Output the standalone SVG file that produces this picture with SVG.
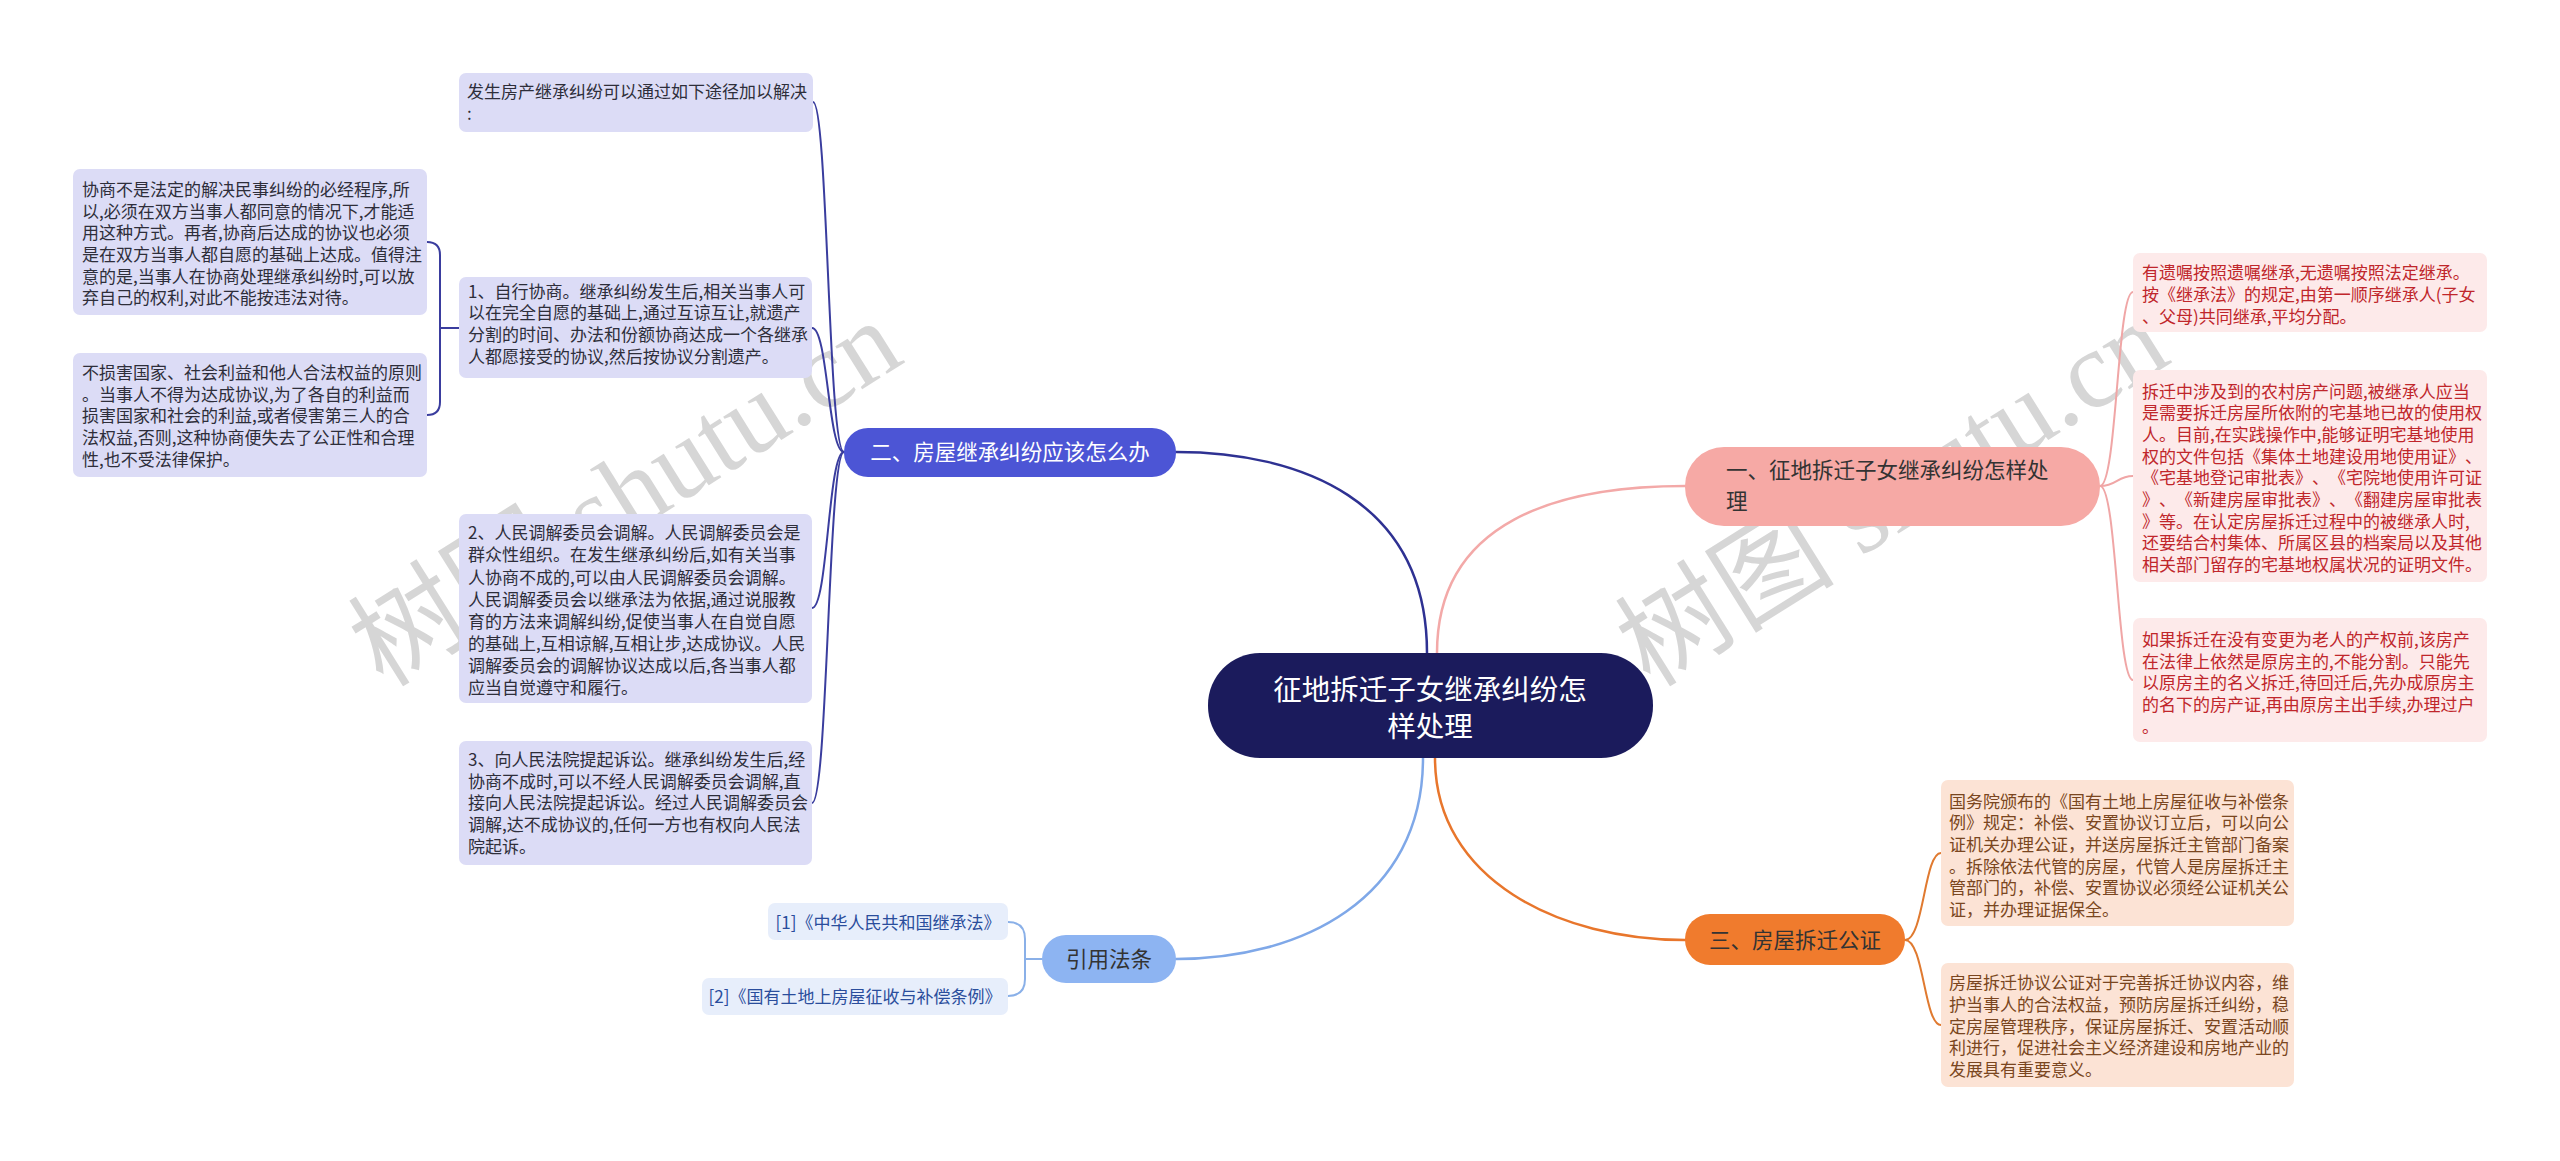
<svg xmlns="http://www.w3.org/2000/svg" width="2560" height="1161" viewBox="0 0 2560 1161">
<style>
text{font-family:"Noto Sans CJK SC","Noto Sans",sans-serif;text-spacing-trim:space-all;}
.wm{font-family:"Liberation Serif","Noto Sans CJK SC",serif;font-size:110px;fill:#b5b5b5;opacity:0.55;}
.lf{font-size:17px;}
.pu rect{fill:#dcdcf6;}
.pu text{fill:#2e2e3a;}
.pk rect{fill:#fdeaea;}
.pk text{fill:#c0262b;}
.or rect{fill:#fce3d5;}
.or text{fill:#7a4620;}
.ci rect{fill:#e7eefb;}
.ci text{fill:#2a4d9c;text-anchor:middle;}
.br{font-size:21.5px;}
.c{fill:none;stroke-linecap:round;}
</style>
<rect width="2560" height="1161" fill="#ffffff"/>
<text class="wm" transform="translate(645,525) rotate(-32)" text-anchor="middle">树图 shutu.cn</text>
<text class="wm" transform="translate(1912,525) rotate(-32)" text-anchor="middle">树图 shutu.cn</text>

<g id="connectors">
<path class="c" d="M1427 653 C1427 500 1300 452 1176 452" stroke="#2e3192" stroke-width="2.5"/>
<path class="c" d="M1437 653 C1437 520 1560 486 1685 486" stroke="#f3a9a8" stroke-width="2.5"/>
<path class="c" d="M1435 758 C1435 880 1560 940 1685 940" stroke="#e8762c" stroke-width="2.5"/>
<path class="c" d="M1423 758 C1423 900 1300 959 1176 959" stroke="#7fa8e8" stroke-width="2.5"/>
<g stroke="#3a3d9e" stroke-width="2">
<path class="c" d="M844 452 C828 452 828 102 813 102"/>
<path class="c" d="M844 452 C828 452 828 328 812 328"/>
<path class="c" d="M844 452 C828 452 828 608 812 608"/>
<path class="c" d="M844 452 C828 452 828 803 812 803"/>
<path class="c" d="M427 242 Q440 242 440 255 L440 402 Q440 415 427 415 M440 328 L459 328"/>
</g>
<g stroke="#f0a6a6" stroke-width="2">
<path class="c" d="M2100 486 C2117 486 2117 292 2133 292"/>
<path class="c" d="M2100 486 C2117 486 2117 476 2133 476"/>
<path class="c" d="M2100 486 C2117 486 2117 680 2133 680"/>
</g>
<g stroke="#e07a30" stroke-width="2">
<path class="c" d="M1905 940 C1924 940 1924 853 1941 853"/>
<path class="c" d="M1905 940 C1924 940 1924 1025 1941 1025"/>
</g>
<path class="c" stroke="#8ab0e8" stroke-width="2" d="M1008 922 Q1025 922 1025 939 L1025 979 Q1025 996 1008 996 M1025 959 L1042 959"/>
</g>

<g id="root">
<rect x="1208" y="653" width="445" height="105" rx="52" fill="#1b1b5c"/>
<text x="1430" y="700" font-size="28.5" fill="#ffffff" text-anchor="middle">征地拆迁子女继承纠纷怎</text>
<text x="1430" y="737" font-size="28.5" fill="#ffffff" text-anchor="middle">样处理</text>
</g>

<g id="b1">
<rect x="1685" y="447" width="415" height="79" rx="39" fill="#f6a9a5"/>
<text class="br" x="1726" y="478" fill="#333333">一、征地拆迁子女继承纠纷怎样处</text>
<text class="br" x="1726" y="509" fill="#333333">理</text>
</g>
<g id="b2">
<rect x="844" y="428" width="332" height="49" rx="24" fill="#4c55d5"/>
<text class="br" x="1010" y="460" fill="#ffffff" text-anchor="middle">二、房屋继承纠纷应该怎么办</text>
</g>
<g id="b3">
<rect x="1685" y="914" width="220" height="51" rx="25" fill="#f07b2d"/>
<text class="br" x="1795" y="948" fill="#333333" text-anchor="middle">三、房屋拆迁公证</text>
</g>
<g id="b4">
<rect x="1042" y="935" width="134" height="48" rx="24" fill="#8db4f2"/>
<text class="br" x="1109" y="967" fill="#333333" text-anchor="middle">引用法条</text>
</g>

<g id="l0" class="pu lf">
<rect x="459" y="73" width="354" height="59" rx="7"/>
<text x="467" y="98">发生房产继承纠纷可以通过如下途径加以解决</text>
<text x="467" y="120">:</text>
</g>
<g id="l1" class="pu lf">
<rect x="459" y="277" width="353" height="101" rx="7"/>
<text x="468" y="298">1、自行协商。继承纠纷发生后,相关当事人可</text>
<text x="468" y="319">以在完全自愿的基础上,通过互谅互让,就遗产</text>
<text x="468" y="341">分割的时间、办法和份额协商达成一个各继承</text>
<text x="468" y="363">人都愿接受的协议,然后按协议分割遗产。</text>
</g>
<g id="l1a" class="pu lf">
<rect x="73" y="169" width="354" height="146" rx="7"/>
<text x="82" y="196">协商不是法定的解决民事纠纷的必经程序,所</text>
<text x="82" y="218">以,必须在双方当事人都同意的情况下,才能适</text>
<text x="82" y="239">用这种方式。再者,协商后达成的协议也必须</text>
<text x="82" y="261">是在双方当事人都自愿的基础上达成。值得注</text>
<text x="82" y="283">意的是,当事人在协商处理继承纠纷时,可以放</text>
<text x="82" y="304">弃自己的权利,对此不能按违法对待。</text>
</g>
<g id="l1b" class="pu lf">
<rect x="73" y="353" width="354" height="124" rx="7"/>
<text x="82" y="379">不损害国家、社会利益和他人合法权益的原则</text>
<text x="82" y="401">。当事人不得为达成协议,为了各自的利益而</text>
<text x="82" y="422">损害国家和社会的利益,或者侵害第三人的合</text>
<text x="82" y="444">法权益,否则,这种协商便失去了公正性和合理</text>
<text x="82" y="466">性,也不受法律保护。</text>
</g>
<g id="l2" class="pu lf">
<rect x="459" y="514" width="353" height="189" rx="7"/>
<text x="468" y="539">2、人民调解委员会调解。人民调解委员会是</text>
<text x="468" y="561">群众性组织。在发生继承纠纷后,如有关当事</text>
<text x="468" y="584">人协商不成的,可以由人民调解委员会调解。</text>
<text x="468" y="606">人民调解委员会以继承法为依据,通过说服教</text>
<text x="468" y="628">育的方法来调解纠纷,促使当事人在自觉自愿</text>
<text x="468" y="650">的基础上,互相谅解,互相让步,达成协议。人民</text>
<text x="468" y="672">调解委员会的调解协议达成以后,各当事人都</text>
<text x="468" y="694">应当自觉遵守和履行。</text>
</g>
<g id="l3" class="pu lf">
<rect x="459" y="741" width="353" height="124" rx="7"/>
<text x="468" y="766">3、向人民法院提起诉讼。继承纠纷发生后,经</text>
<text x="468" y="788">协商不成时,可以不经人民调解委员会调解,直</text>
<text x="468" y="809">接向人民法院提起诉讼。经过人民调解委员会</text>
<text x="468" y="831">调解,达不成协议的,任何一方也有权向人民法</text>
<text x="468" y="853">院起诉。</text>
</g>

<g id="r1" class="pk lf">
<rect x="2133" y="253" width="354" height="79" rx="7"/>
<text x="2142" y="279">有遗嘱按照遗嘱继承,无遗嘱按照法定继承。</text>
<text x="2142" y="301">按《继承法》的规定,由第一顺序继承人(子女</text>
<text x="2142" y="323">、父母)共同继承,平均分配。</text>
</g>
<g id="r2" class="pk lf">
<rect x="2133" y="370" width="354" height="212" rx="7"/>
<text x="2142" y="398">拆迁中涉及到的农村房产问题,被继承人应当</text>
<text x="2142" y="419">是需要拆迁房屋所依附的宅基地已故的使用权</text>
<text x="2142" y="441">人。目前,在实践操作中,能够证明宅基地使用</text>
<text x="2142" y="463">权的文件包括《集体土地建设用地使用证》、</text>
<text x="2142" y="484">《宅基地登记审批表》、《宅院地使用许可证</text>
<text x="2142" y="506">》、《新建房屋审批表》、《翻建房屋审批表</text>
<text x="2142" y="528">》等。在认定房屋拆迁过程中的被继承人时,</text>
<text x="2142" y="549">还要结合村集体、所属区县的档案局以及其他</text>
<text x="2142" y="571">相关部门留存的宅基地权属状况的证明文件。</text>
</g>
<g id="r3" class="pk lf">
<rect x="2133" y="618" width="354" height="124" rx="7"/>
<text x="2142" y="646">如果拆迁在没有变更为老人的产权前,该房产</text>
<text x="2142" y="668">在法律上依然是原房主的,不能分割。只能先</text>
<text x="2142" y="689">以原房主的名义拆迁,待回迁后,先办成原房主</text>
<text x="2142" y="711">的名下的房产证,再由原房主出手续,办理过户</text>
<text x="2142" y="733">。</text>
</g>

<g id="o1" class="or lf">
<rect x="1941" y="780" width="353" height="146" rx="7"/>
<text x="1949" y="808">国务院颁布的《国有土地上房屋征收与补偿条</text>
<text x="1949" y="829">例》规定：补偿、安置协议订立后，可以向公</text>
<text x="1949" y="851">证机关办理公证，并送房屋拆迁主管部门备案</text>
<text x="1949" y="873">。拆除依法代管的房屋，代管人是房屋拆迁主</text>
<text x="1949" y="894">管部门的，补偿、安置协议必须经公证机关公</text>
<text x="1949" y="916">证，并办理证据保全。</text>
</g>
<g id="o2" class="or lf">
<rect x="1941" y="963" width="353" height="124" rx="7"/>
<text x="1949" y="989">房屋拆迁协议公证对于完善拆迁协议内容，维</text>
<text x="1949" y="1011">护当事人的合法权益，预防房屋拆迁纠纷，稳</text>
<text x="1949" y="1033">定房屋管理秩序，保证房屋拆迁、安置活动顺</text>
<text x="1949" y="1054">利进行，促进社会主义经济建设和房地产业的</text>
<text x="1949" y="1076">发展具有重要意义。</text>
</g>

<g id="c1" class="ci lf">
<rect x="768" y="903" width="240" height="37" rx="7"/>
<text x="888" y="929">[1]《中华人民共和国继承法》</text>
</g>
<g id="c2" class="ci lf">
<rect x="702" y="978" width="306" height="37" rx="7"/>
<text x="855" y="1003">[2]《国有土地上房屋征收与补偿条例》</text>
</g>
</svg>
